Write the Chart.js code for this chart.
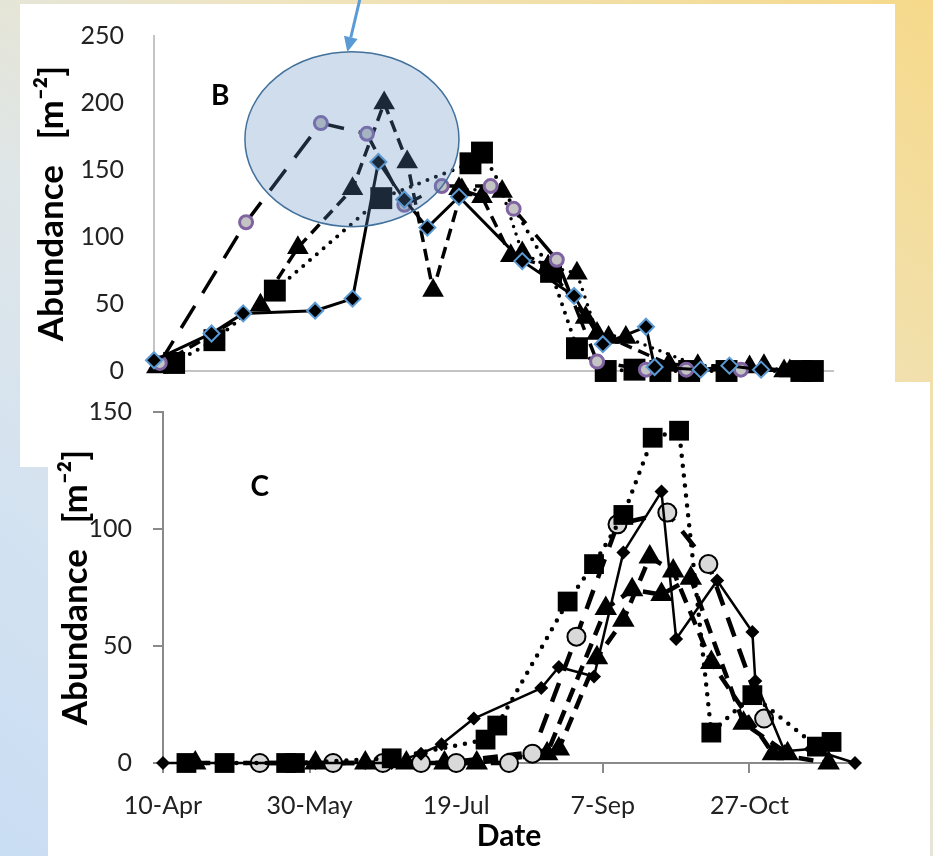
<!DOCTYPE html>
<html>
<head>
<meta charset="utf-8">
<script src="https://cdn.jsdelivr.net/npm/chart.js@4.4.0/dist/chart.umd.min.js"></script>
<style>
html, body { margin: 0; padding: 0; }
body {
  width: 933px; height: 856px; overflow: hidden; position: relative;
  background: linear-gradient(to bottom left, #f6d98a 0%, #efe4bf 35%, #dfe6e8 60%, #d3e2f1 80%, #c9ddf3 100%);
}
.panel { position: absolute; background: #fff; }
#panelB { left: 20px; top: 4px; width: 875px; height: 463px; }
#panelC { left: 48px; top: 382px; width: 882px; height: 474px; }
#chartB { position: absolute; left: 20px; top: -9px; }
#chartC { position: absolute; left: 48px; top: 376px; }
</style>
</head>
<body>
<div class="panel" id="panelB"></div>
<canvas id="chartB" width="875" height="425"></canvas>
<div class="panel" id="panelC"></div>
<canvas id="chartC" width="882" height="480"></canvas>
<script>
// x values are day of year (2013), y values abundance per m2

// panel B
const bDiamondDay = [100, 120, 131, 156, 169, 178, 187, 195, 206, 228, 246, 256, 271, 274, 290, 300, 311];
const bDiamondVal = [8, 28, 43, 45, 54, 156, 128, 107, 130, 82, 56, 20, 33, 3, 1, 4, 1];
const bCircleDay = [102, 132, 158, 174, 187, 200, 217, 225, 240, 254, 271, 285, 304];
const bCircleVal = [6, 111, 185, 177, 124, 138, 138, 121, 83, 7, 1, 1, 1];
const bSquareDay = [107, 121, 142, 179, 210, 214, 238, 247, 257, 267, 276, 286, 299, 325, 329];
const bSquareVal = [6, 23, 60, 129, 155, 163, 74, 17, 0, 1, 0, 0, 0, 0, 0];
const bTriADay = [101, 137, 150, 169, 180, 188, 197, 207, 214, 224, 237, 250, 258, 279, 307, 321];
const bTriAVal = [3, 49, 92, 136, 200, 156, 60, 135, 130, 86, 78, 40, 25, 5, 3, 0];
const bTriBDay = [206, 221, 228, 237, 247, 254, 264, 289, 312, 319];
const bTriBVal = [136, 134, 88, 78, 73, 28, 25, 4, 4, 0];

// panel C
const cDiamondDay = [100, 108, 121, 142, 152, 169, 178, 188, 195, 206, 229, 235, 247, 257, 270, 275, 289, 301, 302, 312, 321, 336];
const cDiamondVal = [0, 0, 0, 0, 0, 0, 0, 4, 8, 19, 32, 41, 37, 90, 116, 53, 78, 56, 35, 5, 6, 0];
const cSquareDay = [108, 121, 142, 145, 178, 210, 214, 238, 247, 257, 267, 276, 287, 301, 323, 328];
const cSquareVal = [0, 0, 0, 0, 2, 10, 16, 69, 85, 106, 139, 142, 13, 29, 7, 9];
const cCircleDay = [133, 158, 175, 188, 200, 218, 226, 241, 255, 272, 286, 305];
const cCircleVal = [0, 0, 0, 0, 0, 0, 4, 54, 102, 107, 85, 19];
const cTriADay = [111, 169, 196, 235, 248, 257, 266, 274, 287, 308, 327];
const cTriAVal = [0, 0, 0, 6, 45, 61, 88, 82, 43, 4, 0];
const cTriBDay = [152, 183, 207, 231, 251, 260, 270, 280, 298, 313];
const cTriBVal = [0, 0, 0, 4, 66, 74, 72, 79, 17, 4];

const dayMin = 100, dayMax = 336, dayStep = 50;
const bTicks = { min: 0, max: 250, step: 50 };
const cTicks = { min: 0, max: 150, step: 50 };
const yTitle = 'Abundance   [m\u207B\u00B2]';

// highlight on panel B, in data units
const ellipseB = { x: 168.8, y: 173, rx: 37.2, ry: 65.3 };
const arrowB = { x0: 171.5, y0: 277, x1: 167.2, y1: 238 };

const months = ['Jan', 'Feb', 'Mar', 'Apr', 'May', 'Jun', 'Jul', 'Aug', 'Sep', 'Oct', 'Nov', 'Dec'];
function dayLabel(doy) {
  const d = new Date(2013, 0, doy);
  return d.getDate() + '-' + months[d.getMonth()];
}

function pts(days, vals) {
  return days.map((d, i) => ({ x: d, y: vals[i] }));
}

function series(days, vals, style) {
  return Object.assign({
    data: pts(days, vals),
    borderColor: '#000',
    borderWidth: 3,
    borderJoinStyle: 'round',
    pointBorderWidth: 0,
    clip: false,
    tension: 0
  }, style);
}

const panelLabel = {
  id: 'panelLabel',
  afterDraw(chart, args, opts) {
    const { ctx, scales: { x, y } } = chart;
    ctx.save();
    ctx.font = 'bold 28px Lato';
    ctx.fillStyle = '#000';
    ctx.textAlign = 'center';
    ctx.textBaseline = 'middle';
    ctx.fillText(opts.text, x.getPixelForValue(opts.x), y.getPixelForValue(opts.y));
    ctx.restore();
  }
};

const highlight = {
  id: 'highlight',
  afterDatasetsDraw(chart) {
    const { ctx, scales: { x, y } } = chart;
    const cx = x.getPixelForValue(ellipseB.x);
    const cy = y.getPixelForValue(ellipseB.y);
    const rx = x.getPixelForValue(ellipseB.x + ellipseB.rx) - cx;
    const ry = cy - y.getPixelForValue(ellipseB.y + ellipseB.ry);
    ctx.save();
    ctx.beginPath();
    ctx.ellipse(cx, cy, rx, ry, 0, 0, Math.PI * 2);
    ctx.fillStyle = 'rgba(90,138,193,0.29)';
    ctx.fill();
    ctx.lineWidth = 1.5;
    ctx.strokeStyle = '#41719c';
    ctx.stroke();

    // arrow pointing at the ellipse
    const ax0 = x.getPixelForValue(arrowB.x0), ay0 = y.getPixelForValue(arrowB.y0);
    const ax1 = x.getPixelForValue(arrowB.x1), ay1 = y.getPixelForValue(arrowB.y1);
    const ang = Math.atan2(ay1 - ay0, ax1 - ax0);
    const head = 15, half = 7;
    const bx = ax1 - Math.cos(ang) * head, by = ay1 - Math.sin(ang) * head;
    ctx.strokeStyle = '#5b9bd5';
    ctx.fillStyle = '#5b9bd5';
    ctx.lineWidth = 3;
    ctx.beginPath();
    ctx.moveTo(ax0, ay0);
    ctx.lineTo(bx, by);
    ctx.stroke();
    ctx.beginPath();
    ctx.moveTo(ax1, ay1);
    ctx.lineTo(bx + Math.sin(ang) * half, by - Math.cos(ang) * half);
    ctx.lineTo(bx - Math.sin(ang) * half, by + Math.cos(ang) * half);
    ctx.closePath();
    ctx.fill();
    ctx.restore();
  }
};

function keepSteps(scale) {
  scale.ticks = scale.ticks.filter(t => (t.value - dayMin) % dayStep === 0);
}

const tickFont = { family: 'Lato', size: 25 };
const titleFont = { family: 'Lato', size: 35, weight: 'bold' };

// ---- chart B ----
new Chart(document.getElementById('chartB'), {
  type: 'line',
  data: {
    datasets: [
      series(bDiamondDay, bDiamondVal, {
        pointStyle: 'rectRot', pointRadius: 8, pointBackgroundColor: '#000',
        pointBorderColor: '#5b9bd5', pointBorderWidth: 2
      }),
      series(bCircleDay, bCircleVal, {
        borderDash: [26, 15], borderWidth: 3.5,
        pointStyle: 'circle', pointRadius: 6.5, pointBackgroundColor: '#c4c4c4',
        pointBorderColor: '#8064a2', pointBorderWidth: 3
      }),
      series(bSquareDay, bSquareVal, {
        borderDash: [0, 9], borderWidth: 4, borderCapStyle: 'round',
        pointStyle: 'rect', pointRadius: 15.5, pointBackgroundColor: '#000'
      }),
      series(bTriADay, bTriAVal, {
        borderDash: [12, 7], borderWidth: 3.5,
        pointStyle: 'triangle', pointRadius: 12.5, pointBackgroundColor: '#000'
      }),
      series(bTriBDay, bTriBVal, {
        borderDash: [0, 8], borderWidth: 3.5, borderCapStyle: 'round',
        pointStyle: 'triangle', pointRadius: 12.5, pointBackgroundColor: '#000'
      })
    ]
  },
  options: {
    responsive: false,
    animation: false,
    layout: { padding: { top: 0, right: 62, left: 0, bottom: 0 } },
    plugins: {
      legend: { display: false },
      tooltip: { enabled: false },
      panelLabel: { text: 'B', x: 123, y: 205 }
    },
    scales: {
      x: {
        type: 'linear', min: dayMin, max: dayMax,
        ticks: { display: false, stepSize: dayStep },
        grid: { display: false },
        border: { color: '#c4c4c4', width: 2 },
        afterBuildTicks: keepSteps,
        afterFit: s => { s.height = 11; }
      },
      y: {
        min: bTicks.min, max: bTicks.max,
        ticks: { stepSize: bTicks.step, font: tickFont, color: '#222', padding: 30 },
        grid: { drawOnChartArea: false, drawTicks: false },
        border: { color: '#c4c4c4', width: 2 },
        title: { display: true, text: yTitle, font: titleFont, color: '#000', padding: { top: 11, bottom: 0 } },
        afterFit: s => { s.width = 134; }
      }
    }
  },
  plugins: [highlight, panelLabel]
});

// ---- chart C ----
new Chart(document.getElementById('chartC'), {
  type: 'line',
  data: {
    datasets: [
      series(cDiamondDay, cDiamondVal, {
        borderWidth: 2.5,
        pointStyle: 'rectRot', pointRadius: 7, pointBackgroundColor: '#000'
      }),
      series(cSquareDay, cSquareVal, {
        borderDash: [0, 10], borderWidth: 4.5, borderCapStyle: 'round',
        pointStyle: 'rect', pointRadius: 14, pointBackgroundColor: '#000'
      }),
      series(cCircleDay, cCircleVal, {
        borderDash: [20, 13], borderWidth: 4.5,
        pointStyle: 'circle', pointRadius: 9, pointBackgroundColor: '#d9d9d9',
        pointBorderColor: '#000', pointBorderWidth: 2
      }),
      series(cTriADay, cTriAVal, {
        borderDash: [15, 9], borderWidth: 4.5,
        pointStyle: 'triangle', pointRadius: 13, pointBackgroundColor: '#000'
      }),
      series(cTriBDay, cTriBVal, {
        borderDash: [15, 9], borderWidth: 4.5,
        pointStyle: 'triangle', pointRadius: 13, pointBackgroundColor: '#000'
      })
    ]
  },
  options: {
    responsive: false,
    animation: false,
    layout: { padding: { top: 0, right: 75, left: 0, bottom: 0 } },
    plugins: {
      legend: { display: false },
      tooltip: { enabled: false },
      panelLabel: { text: 'C', x: 133, y: 118 }
    },
    scales: {
      x: {
        type: 'linear', min: dayMin, max: dayMax,
        ticks: { stepSize: dayStep, font: tickFont, color: '#222', padding: 18, maxRotation: 0, autoSkip: false, callback: v => dayLabel(v) },
        grid: { drawOnChartArea: false, tickLength: 10, tickColor: '#8a8a8a', lineWidth: 2 },
        border: { color: '#8a8a8a', width: 2 },
        title: { display: true, text: 'Date', font: { family: 'Lato', size: 30, weight: 'bold' }, color: '#000', padding: { top: 0, bottom: 2 } },
        afterBuildTicks: keepSteps,
        afterFit: s => { s.height = 93; }
      },
      y: {
        min: cTicks.min, max: cTicks.max,
        ticks: { stepSize: cTicks.step, font: tickFont, color: '#222', padding: 21 },
        grid: { drawOnChartArea: false, tickLength: 10, tickColor: '#8a8a8a', lineWidth: 2 },
        border: { color: '#8a8a8a', width: 2 },
        title: { display: true, text: yTitle, font: titleFont, color: '#000', padding: { top: 7, bottom: 0 } },
        afterFit: s => { s.width = 115; }
      }
    }
  },
  plugins: [panelLabel]
});
</script>
</body>
</html>
